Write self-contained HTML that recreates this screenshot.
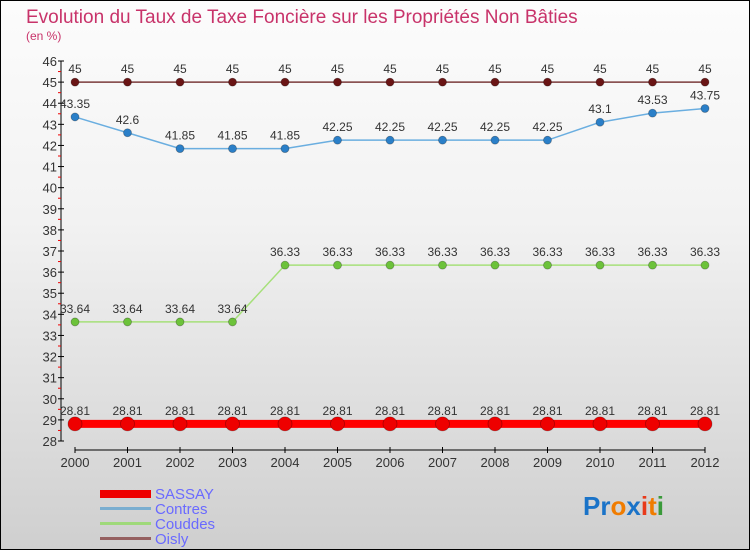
<!DOCTYPE html>
<html><head><meta charset="utf-8"><style>
html,body{margin:0;padding:0}
body{width:750px;height:550px;overflow:hidden;font-family:"Liberation Sans",sans-serif}
#c{position:absolute;left:0;top:0;width:748px;height:548px;border:1px solid #000;background:linear-gradient(#fcfcfc,#f2f2f2 40%,#cfcfcf)}
</style></head><body>
<div id="c">
<svg id="s" width="750" height="550" style="position:absolute;left:-1px;top:-1px">
<text x="26" y="23" font-size="19" fill="#c8336a">Evolution du Taux de Taxe Foncière sur les Propriétés Non Bâties</text>
<text x="26" y="40" font-size="12" fill="#c8336a">(en %)</text>
<g>
<rect x="100" y="490" width="51" height="8" fill="#e00"/>
<text x="155" y="499" font-size="15" fill="#6a6aff">SASSAY</text>
<rect x="100" y="507" width="51" height="3" fill="#7aaed0"/>
<text x="155" y="514" font-size="15" fill="#6a6aff">Contres</text>
<rect x="100" y="522" width="51" height="3" fill="#9fd97a"/>
<text x="155" y="529" font-size="15" fill="#6a6aff">Couddes</text>
<rect x="100" y="537" width="51" height="3" fill="#956060"/>
<text x="155" y="544" font-size="15" fill="#6a6aff">Oisly</text>
</g>
<text x="583" y="515" font-size="26" font-weight="bold"><tspan fill="#1a73c8">Pr</tspan><tspan fill="#f07c00">o</tspan><tspan fill="#1a73c8">x</tspan><tspan fill="#e83a1a">i</tspan><tspan fill="#f07c00">t</tspan><tspan fill="#3a9a3a">i</tspan></text>
</svg></div>
<script>
const years=[2000,2001,2002,2003,2004,2005,2006,2007,2008,2009,2010,2011,2012];
const sassay=[28.81,28.81,28.81,28.81,28.81,28.81,28.81,28.81,28.81,28.81,28.81,28.81,28.81];
const contres=[43.35,42.6,41.85,41.85,41.85,42.25,42.25,42.25,42.25,42.25,43.1,43.53,43.75];
const couddes=[33.64,33.64,33.64,33.64,36.33,36.33,36.33,36.33,36.33,36.33,36.33,36.33,36.33];
const oisly=[45,45,45,45,45,45,45,45,45,45,45,45,45];
const yTicks=[28,29,30,31,32,33,34,35,36,37,38,39,40,41,42,43,44,45,46];
const yMin=28,yMax=46;
const X=i=>75+i*(630/(years.length-1));
const Y=v=>441-(v-yMin)*(380/(yMax-yMin));
const s=document.getElementById('s');
const NS='http://www.w3.org/2000/svg';
function mk(t,a,p){const e=document.createElementNS(NS,t);for(const k in a)e.setAttribute(k,a[k]);(p||s).appendChild(e);return e;}
const ax=mk('g',{});


const yl=mk('line',{x1:61,y1:Y(yMax),x2:61,y2:Y(yMin),stroke:'#000','stroke-width':1},ax);


yTicks.forEach(v=>{
  mk('line',{x1:58,x2:64,y1:Y(v),y2:Y(v),stroke:'#000'},ax);
  if(v<yMax) mk('line',{x1:58,x2:61,y1:Y(v+0.5),y2:Y(v+0.5),stroke:'#e00'},ax);
  const t=mk('text',{x:57,y:Y(v)+5,'text-anchor':'end','font-size':13,fill:'#333'},ax);
  t.textContent=v;
  
  
});
const xl=mk('line',{x1:X(0),y1:450,x2:X(years.length-1),y2:450,stroke:'#000'},ax);


years.forEach((yr,i)=>{
  mk('line',{x1:X(i),x2:X(i),y1:447,y2:453,stroke:'#000'},ax);
  const t=mk('text',{x:X(i),y:467,'text-anchor':'middle','font-size':13,fill:'#333'},ax);
  t.textContent=yr;
  
  
});
function series(name,vals,col,dot,w,r){
  const g=mk('g',{});
  
  
  const pl=mk('polyline',{points:vals.map((v,i)=>X(i)+','+Y(v)).join(' '),fill:'none',stroke:col,'stroke-width':w},g);
  
  
  vals.forEach((v,i)=>{
    const c=mk('circle',{cx:X(i),cy:Y(v),r:r,fill:dot,stroke:'rgba(0,0,0,0.3)','stroke-width':0.8},g);
    
    
    const t=mk('text',{x:X(i),y:Y(v)-9,'text-anchor':'middle','font-size':12,fill:'#333'},g);
    t.textContent=v;
    
    
  });
}
series('oisly',oisly,'#7a3a3a','#6a1515',1.5,4);
series('contres',contres,'#6aaee0','#2a7fc8',1.5,4);
series('couddes',couddes,'#a6e07a','#6cc23a',1.5,4);
series('sassay',sassay,'#f00','#e00',8,7);
</script>
</body></html>
